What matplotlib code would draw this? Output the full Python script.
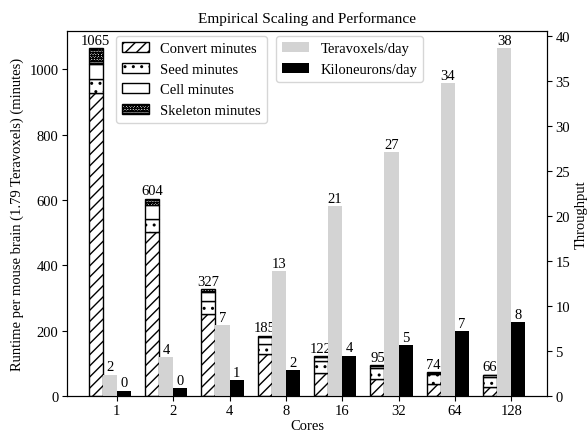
import numpy as np
import matplotlib.pyplot as plt

plt.rcParams['font.family'] = ['Liberation Serif', 'DejaVu Serif']
plt.rcParams['hatch.linewidth'] = 1.0

cores = ['1', '2', '4', '8', '16', '32', '64', '128']

# runtime components (minutes)
convert = [929, 503, 251, 129, 72, 52, 37, 28]
seed = [41, 39, 41, 31, 35, 33, 31, 32]
cell = [48, 44, 27, 20, 12, 7, 4, 4]
skeleton = [47, 18, 8, 5, 3, 3, 2, 2]
totals = [1065, 604, 327, 185, 122, 95, 74, 66]

# throughput
teravoxels = [2.4, 4.3, 7.9, 13.9, 21.1, 27.1, 34.8, 38.7]
kiloneurons = [0.6, 0.9, 1.8, 2.9, 4.5, 5.7, 7.25, 8.2]

x = np.arange(len(cores))
w = 0.25
fs = 10.5

fig, ax = plt.subplots(figsize=(5.87, 4.35), dpi=100)
ax2 = ax.twinx()

bottom = np.zeros(len(cores))
parts = [(convert, '///', 'Convert minutes'),
         (seed, '..', 'Seed minutes'),
         (cell, '', 'Cell minutes'),
         (skeleton, 'oooooo', 'Skeleton minutes')]
for vals, hatch, name in parts:
    bars = ax.bar(x - 1.5 * w, vals, w, bottom=bottom, color='white',
                  edgecolor='black', hatch=hatch, label=name, linewidth=1.0)
    bottom += np.array(vals)
ax.bar_label(bars, labels=[str(t) for t in totals], padding=1, fontsize=fs)

g = ax2.bar(x - 0.5 * w, teravoxels, w, color='lightgray', label='Teravoxels/day')
k = ax2.bar(x + 0.5 * w, kiloneurons, w, color='black', label='Kiloneurons/day')
ax2.bar_label(g, labels=[str(int(v)) for v in teravoxels], padding=1, fontsize=fs)
ax2.bar_label(k, labels=[str(int(v)) for v in kiloneurons], padding=1, fontsize=fs)

ax.set_xticks(x)
ax.set_xticklabels(cores)
ax.set_xlabel('Cores', fontsize=fs, labelpad=1)
ax.set_ylabel('Runtime per mouse brain (1.79 Teravoxels) (minutes)', fontsize=fs)
ax2.set_ylabel('Throughput', fontsize=fs, labelpad=3)
ax2.set_yticks(range(0, 41, 5))
ax.tick_params(labelsize=fs, pad=2.5)
ax2.tick_params(labelsize=fs, pad=2.5)
ax.set_title('Empirical Scaling and Performance', fontsize=11, pad=6)

ax.legend(loc='upper left', bbox_to_anchor=(0.102, 0.985), fontsize=fs,
          handlelength=1.85, borderaxespad=0)
ax2.legend(loc='upper left', bbox_to_anchor=(0.435, 0.985), fontsize=fs,
           handlelength=1.85, borderaxespad=0)

fig.subplots_adjust(left=0.114, right=0.932, top=0.927, bottom=0.087)
fig.savefig('out.png')
